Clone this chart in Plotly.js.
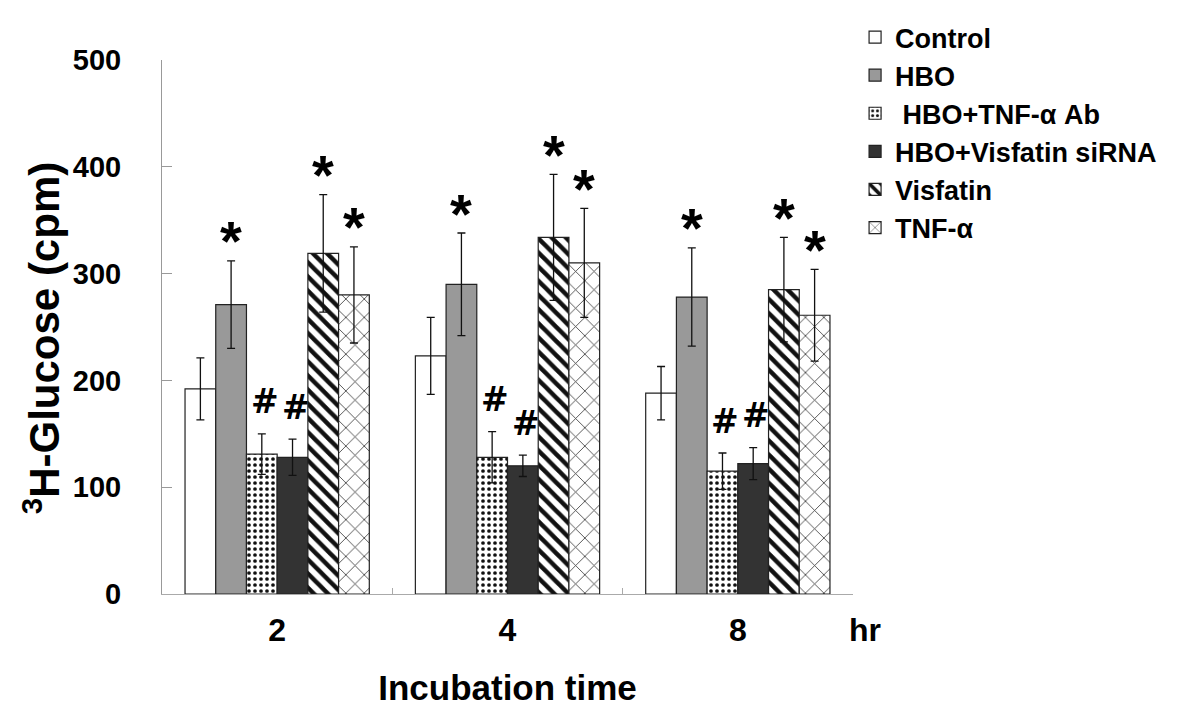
<!DOCTYPE html>
<html>
<head>
<meta charset="utf-8">
<script src="https://cdn.plot.ly/plotly-3.0.1.min.js"></script>
<style>html,body{margin:0;padding:0;background:#fff;}#chart{width:1200px;height:716px;}</style>
</head>
<body>
<div id="chart"></div>
<script>
// ---- data ----
const timeLabels = ['2', '4', '8'];
const seriesNames = ['Control', 'HBO', ' HBO+TNF-α Ab', 'HBO+Visfatin siRNA', 'Visfatin', 'TNF-α'];
const controlVals  = [192, 223, 188];
const controlErr   = [29, 36, 25];
const hboVals      = [271, 290, 278];
const hboErr       = [41, 48, 46];
const tnfAbVals    = [131, 128, 115];
const tnfAbErr     = [19, 24, 17];
const sirnaVals    = [128, 120, 122];
const sirnaErr     = [17, 10, 15];
const visfatinVals = [319, 334, 285];
const visfatinErr  = [55, 59, 49];
const tnfaVals     = [280, 310, 261];
const tnfaErr      = [45, 51, 43];
const sigMarks     = ['', '*', '#', '#', '*', '*'];
const yTicks       = [0, 100, 200, 300, 400, 500];

const allVals = [controlVals, hboVals, tnfAbVals, sirnaVals, visfatinVals, tnfaVals];
const allErr  = [controlErr, hboErr, tnfAbErr, sirnaErr, visfatinErr, tnfaErr];

const FONT = 'Liberation Sans, Arial, Helvetica, sans-serif';
const styles = [
  {color: '#ffffff'},
  {color: '#999999'},
  {color: '#ffffff', pattern: {shape: '.', fgcolor: '#111111', bgcolor: '#ffffff', fgopacity: 1, size: 6, solidity: 0.3, fillmode: 'replace'}},
  {color: '#333333'},
  {color: '#ffffff', pattern: {shape: '\\', fgcolor: '#111111', bgcolor: '#ffffff', fgopacity: 1, size: 10, solidity: 0.45, fillmode: 'replace'}},
  {color: '#ffffff', pattern: {shape: 'x', fgcolor: '#333333', bgcolor: '#ffffff', fgopacity: 1, size: 13, solidity: 0.12, fillmode: 'replace'}}
];

const traces = seriesNames.map((name, i) => ({
  type: 'bar',
  name: name,
  x: timeLabels,
  y: allVals[i],
  marker: Object.assign({line: {color: '#222222', width: 1.2}}, styles[i]),
  error_y: {type: 'data', array: allErr[i], visible: true, color: '#111111', thickness: 1.3, width: 4},
  hoverinfo: 'skip'
}));

const nSeries = seriesNames.length;
const groupWidth = 0.8;
const annotations = [];
allVals.forEach((vals, i) => {
  if (!sigMarks[i]) return;
  vals.forEach((v, j) => {
    const isStar = sigMarks[i] === '*';
    annotations.push({
      x: j + (i - (nSeries - 1) / 2) * groupWidth / nSeries,
      y: v + allErr[i][j],
      xref: 'x', yref: 'y',
      xshift: isStar ? 0 : 3,
      text: '<b>' + sigMarks[i] + '</b>',
      showarrow: false,
      yanchor: 'middle',
      yshift: isStar ? 20 : 32,
      font: {family: isStar ? FONT : 'DejaVu Sans, ' + FONT, size: isStar ? 56 : 33, color: '#000'}
    });
  });
});
annotations.push({
  xref: 'paper', yref: 'paper', x: 1.017, y: 0, yshift: -36,
  xanchor: 'center', yanchor: 'middle', showarrow: false,
  text: '<b>hr</b>', font: {family: FONT, size: 32, color: '#000'}
});
annotations.push({
  xref: 'paper', yref: 'paper', x: -0.1737, y: 0.479,
  xanchor: 'center', yanchor: 'middle', showarrow: false, textangle: -90,
  text: '<b><sup>3</sup>H-Glucose (cpm)</b>', font: {family: FONT, size: 42, color: '#000'}
});

const layout = {
  width: 1200, height: 716,
  margin: {l: 162, r: 347, t: 60, b: 122},
  paper_bgcolor: '#ffffff', plot_bgcolor: '#ffffff',
  barmode: 'group', bargap: 0.2, bargroupgap: 0,
  font: {family: FONT, color: '#000'},
  xaxis: {
    type: 'category',
    showline: true, linecolor: '#aaaaaa', linewidth: 1,
    ticks: 'inside', tickson: 'boundaries', ticklen: 6, tickcolor: '#aaaaaa',
    tickfont: {family: FONT, size: 32, color: '#000', weight: 'bold'},
    ticklabelstandoff: 8,
    showgrid: false, zeroline: false,
    title: {text: '<b>Incubation time</b>', font: {family: FONT, size: 35, color: '#000'}, standoff: 28}
  },
  yaxis: {
    range: [0, 500],
    tickvals: yTicks,
    showline: true, linecolor: '#999999', linewidth: 1,
    ticks: 'inside', ticklen: 10, tickcolor: '#999999',
    tickfont: {family: FONT, size: 29, color: '#000', weight: 'bold'},
    ticklabelstandoff: 34,
    showgrid: false, zeroline: false
  },
  legend: {
    x: 1.003, xanchor: 'left', xref: 'paper',
    y: 1.088, yanchor: 'top', yref: 'paper',
    font: {family: FONT, size: 27, color: '#000', weight: 'bold'},
    bgcolor: 'rgba(0,0,0,0)', traceorder: 'normal'
  },
  annotations: annotations,
  showlegend: true
};

Plotly.newPlot('chart', traces, layout, {displayModeBar: false, staticPlot: true});
</script>
</body>
</html>
